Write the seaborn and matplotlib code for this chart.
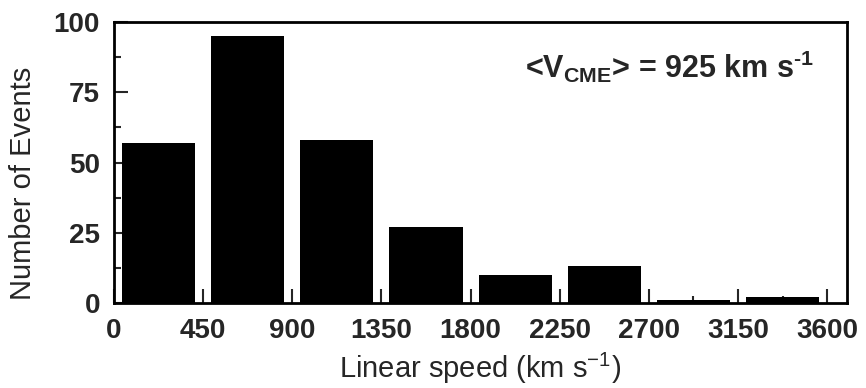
import numpy as np
import pandas as pd
import matplotlib
matplotlib.use("Agg")
import matplotlib.pyplot as plt
from matplotlib.ticker import MultipleLocator
import seaborn as sns

# histogram of CME linear speeds (bins of 450 km/s)
bin_edges = [0, 450, 900, 1350, 1800, 2250, 2700, 3150, 3600]
counts = [57, 95, 58, 27, 10, 13, 1, 2]
x_ticks = [0, 450, 900, 1350, 1800, 2250, 2700, 3150, 3600]
y_ticks = [0, 25, 50, 75, 100]
mean_speed = 925

sns.set_style("ticks")
plt.rcParams['font.family'] = ['Liberation Sans', 'DejaVu Sans']
plt.rcParams['mathtext.fontset'] = 'custom'
plt.rcParams['mathtext.rm'] = 'Liberation Sans:bold'   # used by \text in the annotation
plt.rcParams['mathtext.sf'] = 'Liberation Sans'
plt.rcParams['mathtext.bf'] = 'Liberation Sans:bold'
plt.rcParams['mathtext.it'] = 'Liberation Sans:italic'

centers = [(a + b) / 2 for a, b in zip(bin_edges[:-1], bin_edges[1:])]
df = pd.DataFrame({'speed': centers, 'n': counts})

fig = plt.figure(figsize=(8.66, 3.88), dpi=100)
ax = fig.add_axes([0.1316, 0.219, 0.8464, 0.7242])

sns.histplot(data=df, x='speed', weights='n', bins=bin_edges, shrink=0.82,
             color='black', edgecolor='black', alpha=1, linewidth=0, ax=ax)

ax.set_xlim(0, 3700)
ax.set_ylim(0, 100)
ax.set_xticks(x_ticks)
ax.set_yticks(y_ticks)
ax.xaxis.set_minor_locator(MultipleLocator(225))
ax.yaxis.set_minor_locator(MultipleLocator(12.5))
ax.tick_params(which='major', direction='in', length=10, width=1.5,
               labelsize=20, top=False, right=False)
ax.tick_params(which='minor', direction='in', length=5, width=1.5,
               top=False, right=False)
for lab in ax.get_xticklabels() + ax.get_yticklabels():
    lab.set_fontweight('bold')
ax.tick_params(axis='x', pad=10.5)
ax.tick_params(axis='y', pad=10)

for sp in ax.spines.values():
    sp.set_visible(True)
    sp.set_linewidth(2)
    sp.set_color('black')

ax.set_xlabel(r'Linear speed (km s$^{\mathsf{-1}}$)', fontsize=21, labelpad=5)
ax.set_ylabel('Number of Events', fontsize=21)
ax.yaxis.set_label_coords(-0.105, 0.427)

ax.text(0.955, 0.80,
        r'$\text{<V}_{\text{CME}}\text{> = %d km s}^{\text{-1}}$' % mean_speed,
        transform=ax.transAxes, ha='right', va='baseline', fontsize=22)

fig.savefig('out.png', dpi=100)
